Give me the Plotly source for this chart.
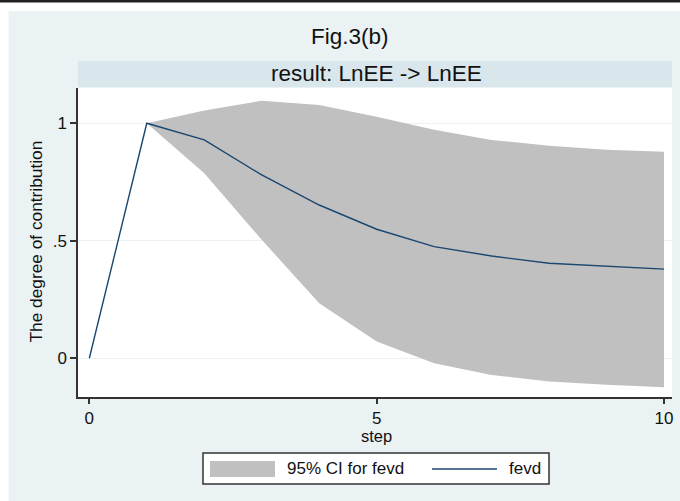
import plotly.graph_objects as go

# ---------------- data ----------------
steps = [0, 1, 2, 3, 4, 5, 6, 7, 8, 9, 10]
fevd = [0.0, 1.0, 0.929, 0.780, 0.652, 0.549, 0.475, 0.435, 0.404, 0.390, 0.379]
ci_steps = [1, 2, 3, 4, 5, 6, 7, 8, 9, 10]
ci_upper = [1.0, 1.054, 1.096, 1.078, 1.028, 0.972, 0.929, 0.904, 0.887, 0.879]
ci_lower = [1.0, 0.787, 0.504, 0.234, 0.071, -0.021, -0.071, -0.099, -0.113, -0.123]

x_tickvals = [0, 5, 10]
x_ticktext = ["0", "5", "10"]
y_tickvals = [0, 0.5, 1]
y_ticktext = ["0", ".5", "1"]

title_text = "Fig.3(b)"
subtitle_text = "result: LnEE -> LnEE"
xtitle = "step"
ytitle = "The degree of contribution"
legend_ci = "95% CI for fevd"
legend_line = "fevd"

# ---------------- layout geometry (pixels) ----------------
W, H = 680, 501
L, R, T, B = 78, 8, 88, 104
PW, PH = W - L - R, H - T - B


def px(x):
    return (x - L) / PW


def py(y):
    return (H - B - y) / PH


BG = "#EAF2F3"
BAND = "#D9E6EB"
FILL = "#C0C0C0"
NAVY = "#1A476F"
FONT = "Liberation Sans, Arial, sans-serif"

fig = go.Figure()

# CI band as closed polygon
fig.add_trace(go.Scatter(
    x=ci_steps + ci_steps[::-1],
    y=ci_upper + ci_lower[::-1],
    fill="toself", fillcolor=FILL, mode="none",
    line=dict(width=0), showlegend=False, hoverinfo="skip",
))
fig.add_trace(go.Scatter(
    x=steps, y=fevd, mode="lines",
    line=dict(color=NAVY, width=1.4), showlegend=False,
))

shapes = [
    # white strip at top and left of graph region
    dict(type="rect", xref="paper", yref="paper", x0=px(0), x1=px(W), y0=py(11), y1=py(0),
         fillcolor="white", line=dict(width=0), layer="below"),
    dict(type="rect", xref="paper", yref="paper", x0=px(0), x1=px(8.5), y0=py(H), y1=py(0),
         fillcolor="white", line=dict(width=0), layer="below"),
    dict(type="line", xref="paper", yref="paper", x0=px(0), x1=px(W), y0=py(1.3), y1=py(1.3),
         line=dict(color="#222222", width=2.5)),
    # subtitle band
    dict(type="rect", xref="paper", yref="paper", x0=px(78), x1=px(672), y0=py(87), y1=py(61),
         fillcolor=BAND, line=dict(width=0), layer="below"),
    # legend box
    dict(type="rect", xref="paper", yref="paper", x0=px(203), x1=px(549), y0=py(484), y1=py(453),
         fillcolor="white", line=dict(color="#333333", width=1.5)),
    dict(type="rect", xref="paper", yref="paper", x0=px(210), x1=px(275), y0=py(477), y1=py(461),
         fillcolor=FILL, line=dict(width=0)),
    dict(type="line", xref="paper", yref="paper", x0=px(432), x1=px(497), y0=py(469), y1=py(469),
         line=dict(color=NAVY, width=1.4)),
]

annotations = [
    dict(text=title_text, x=px(350), y=py(36), xref="paper", yref="paper", showarrow=False,
         xanchor="center", yanchor="middle", font=dict(size=22.5, color="#111111", family=FONT)),
    dict(text=subtitle_text, x=px(376), y=py(73.5), xref="paper", yref="paper", showarrow=False,
         xanchor="center", yanchor="middle", font=dict(size=22.5, color="#111111", family=FONT)),
    dict(text=ytitle, x=px(35), y=py(241.5), xref="paper", yref="paper", showarrow=False,
         textangle=-90, xanchor="center", yanchor="middle",
         font=dict(size=17.3, color="#111111", family=FONT)),
    dict(text=xtitle, x=px(376), y=py(425), xref="paper", yref="paper", showarrow=False,
         xanchor="center", yanchor="top", font=dict(size=16.5, color="#111111", family=FONT)),
    dict(text=legend_ci, x=px(285), y=py(469), xref="paper", yref="paper", showarrow=False,
         xanchor="left", yanchor="middle", font=dict(size=17, color="#111111", family=FONT)),
    dict(text=legend_line, x=px(507), y=py(469), xref="paper", yref="paper", showarrow=False,
         xanchor="left", yanchor="middle", font=dict(size=17, color="#111111", family=FONT)),
]

fig.update_layout(
    width=W, height=H,
    margin=dict(l=L, r=R, t=T, b=B, pad=0),
    paper_bgcolor=BG, plot_bgcolor="white",
    showlegend=False,
    shapes=shapes, annotations=annotations,
    font=dict(family=FONT, color="#111111", size=17),
    xaxis=dict(
        range=[-0.197, 10.139], tickvals=x_tickvals, ticktext=x_ticktext,
        showgrid=False, zeroline=False, showline=True, linecolor="#333333", linewidth=1.5,
        ticks="outside", ticklen=5, tickcolor="#333333", tickwidth=1.5,
        tickfont=dict(size=17, family=FONT, color="#111111"),
    ),
    yaxis=dict(
        range=[-0.165, 1.150], tickvals=y_tickvals, ticktext=y_ticktext,
        showgrid=True, gridcolor=BG, gridwidth=1.2, zeroline=False,
        showline=True, linecolor="#333333", linewidth=1.5,
        ticks="outside", ticklen=6, tickcolor="#333333", tickwidth=1.5,
        tickfont=dict(size=17, family=FONT, color="#111111"),
    ),
)

fig.write_html("out.html")
